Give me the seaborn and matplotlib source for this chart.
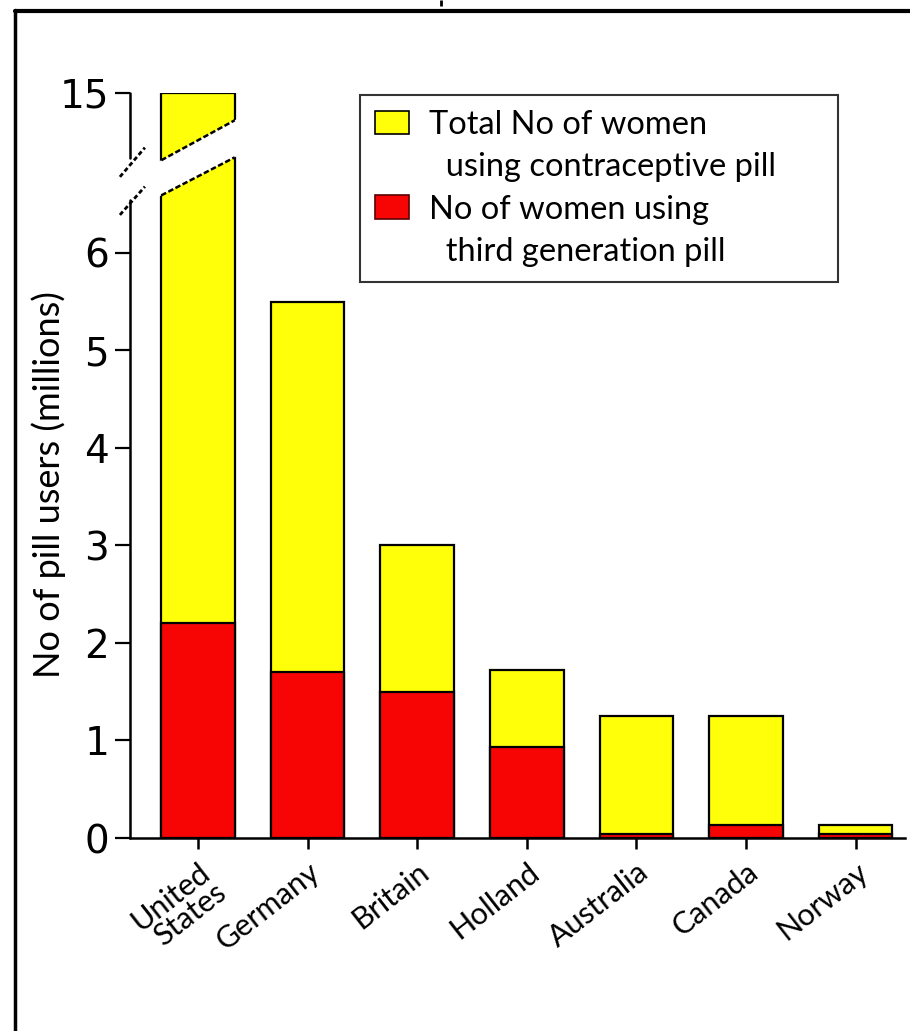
import numpy as np
import pandas as pd
import matplotlib
matplotlib.use("Agg")
import matplotlib.pyplot as plt
from matplotlib.patches import Patch, Polygon
from matplotlib.lines import Line2D
from matplotlib.transforms import blended_transform_factory
import seaborn as sns

# ---- data (millions of women) ----
countries = ["United\nStates", "Germany", "Britain", "Holland", "Australia", "Canada", "Norway"]
total_users = [15.0, 5.5, 3.0, 1.72, 1.25, 1.25, 0.13]
third_gen_users = [2.2, 1.7, 1.5, 0.93, 0.04, 0.13, 0.04]
y_ticks = [0, 1, 2, 3, 4, 5, 6, 15]
legend_labels = ["Total No of women", "using contraceptive pill",
                 "No of women using", "third generation pill"]
y_label = "No of pill users (millions)"

YELLOW = "#FFFF0A"
RED = "#F70505"

# broken y axis: linear up to 7, strongly compressed above
BREAK = 7.0
SQUEEZE = 0.08


def forward(v):
    v = np.asarray(v, dtype=float)
    return np.where(v <= BREAK, v, BREAK + (v - BREAK) * SQUEEZE)


def inverse(s):
    s = np.asarray(s, dtype=float)
    return np.where(s <= BREAK, s, BREAK + (s - BREAK) / SQUEEZE)


sns.set_theme(style="white")
plt.rcParams["font.family"] = ["Lato", "DejaVu Sans"]
plt.rcParams["text.color"] = "black"

fig = plt.figure(figsize=(9.1, 10.31), dpi=100)
ax = fig.add_axes([130 / 910, (1031 - 838) / 1031, 775 / 910, 745 / 1031])

df = pd.DataFrame({"country": countries, "total": total_users, "third": third_gen_users})
BAR_W = 0.67
sns.barplot(data=df, x="country", y="total", color=YELLOW, saturation=1,
            width=BAR_W, edgecolor="black", linewidth=1.6, ax=ax)
sns.barplot(data=df, x="country", y="third", color=RED, saturation=1,
            width=BAR_W, edgecolor="black", linewidth=1.6, ax=ax)

ax.set_yscale("function", functions=(forward, inverse))
ax.set_ylim(0, 15)
ax.set_xlim(-0.62, 6.45)
ax.minorticks_off()
ax.set_yticks(y_ticks)
ax.set_yticklabels([str(t) for t in y_ticks], family=["Liberation Sans Narrow", "DejaVu Sans"],
                   fontsize=28)
ax.set_xticks(range(len(countries)))
ax.set_xticklabels(countries, rotation=38, ha="right", rotation_mode="anchor",
                   fontsize=22, linespacing=0.9)
ax.set_xlabel("")
ax.set_ylabel(y_label, fontsize=26, color="black")
ax.yaxis.set_label_coords(-0.082, 0.475)

ax.tick_params(axis="y", left=True, direction="out", length=11, width=1.6,
               pad=4, colors="black")
ax.tick_params(axis="x", bottom=True, direction="out", length=8, width=1.8,
               pad=6, colors="black")

for side in ["top", "right", "left"]:
    ax.spines[side].set_visible(False)
ax.spines["bottom"].set_color("black")
ax.spines["bottom"].set_linewidth(1.8)

# left axis drawn in two pieces around the break
tr = blended_transform_factory(ax.transAxes, ax.transData)
ax.add_line(Line2D([0, 0], [0, 6.54], transform=tr, color="black", lw=1.8, clip_on=False))
ax.add_line(Line2D([0, 0], [6.97, 15], transform=tr, color="black", lw=1.8, clip_on=False))

# slashes marking the break on the axis (scaled units)
for y0, y1 in [(6.39, 6.68), (6.78, 7.08)]:
    ax.add_line(Line2D([-0.712, -0.484], inverse([y0, y1]), color="black", lw=2.0,
                       ls=(0, (1.6, 1.0)), clip_on=False, zorder=6))

# gap cut through the tall bar
xl, xr = -BAR_W / 2, BAR_W / 2
lo_l, lo_r = 6.59, 6.98
hi_l, hi_r = 6.95, 7.36


def along(x, yl, yr):
    return yl + (yr - yl) * (x - xl) / (xr - xl)


xa, xb = xl - 0.05, xr + 0.05
gap = Polygon([(xa, float(inverse(along(xa, lo_l, lo_r)))),
               (xb, float(inverse(along(xb, lo_l, lo_r)))),
               (xb, float(inverse(along(xb, hi_l, hi_r)))),
               (xa, float(inverse(along(xa, hi_l, hi_r))))],
              closed=True, facecolor="white", edgecolor="none", zorder=5)
ax.add_patch(gap)
for yl, yr in [(lo_l, lo_r), (hi_l, hi_r)]:
    ax.add_line(Line2D([xl, xr], inverse([yl, yr]), color="black", lw=1.8,
                       ls=(0, (2.2, 1.0)), zorder=6))

# legend with indented continuation lines
handles = [Patch(facecolor=YELLOW, edgecolor="black", linewidth=1.2),
           Patch(facecolor="none", edgecolor="none"),
           Patch(facecolor=RED, edgecolor="#5a0000", linewidth=1.2),
           Patch(facecolor="none", edgecolor="none")]
labels = [legend_labels[0], "  " + legend_labels[1], legend_labels[2], "  " + legend_labels[3]]
leg = ax.legend(handles, labels, loc="upper left",
                bbox_to_anchor=(0.297, 0.746, 0.617, 0.251), mode="expand",
                fancybox=False, frameon=True, fontsize=23.5, handlelength=1.05,
                handleheight=0.75, handletextpad=0.6, labelspacing=0.38,
                borderpad=0.45, borderaxespad=0)
leg.get_frame().set_edgecolor("black")
leg.get_frame().set_linewidth(1.5)
for t in leg.get_texts():
    t.set_color("black")
leg.set_zorder(10)

# page frame
fig.add_artist(Line2D([15 / 910, 15 / 910], [0, 1 - 10 / 1031], transform=fig.transFigure,
                      color="black", lw=2.5))
fig.add_artist(Line2D([15 / 910, 1], [1 - 11 / 1031, 1 - 11 / 1031], transform=fig.transFigure,
                      color="black", lw=3))
fig.add_artist(Line2D([441 / 910, 441 / 910], [1, 1 - 6 / 1031], transform=fig.transFigure,
                      color="black", lw=2, solid_capstyle="butt"))

fig.savefig("out.png", dpi=100)
